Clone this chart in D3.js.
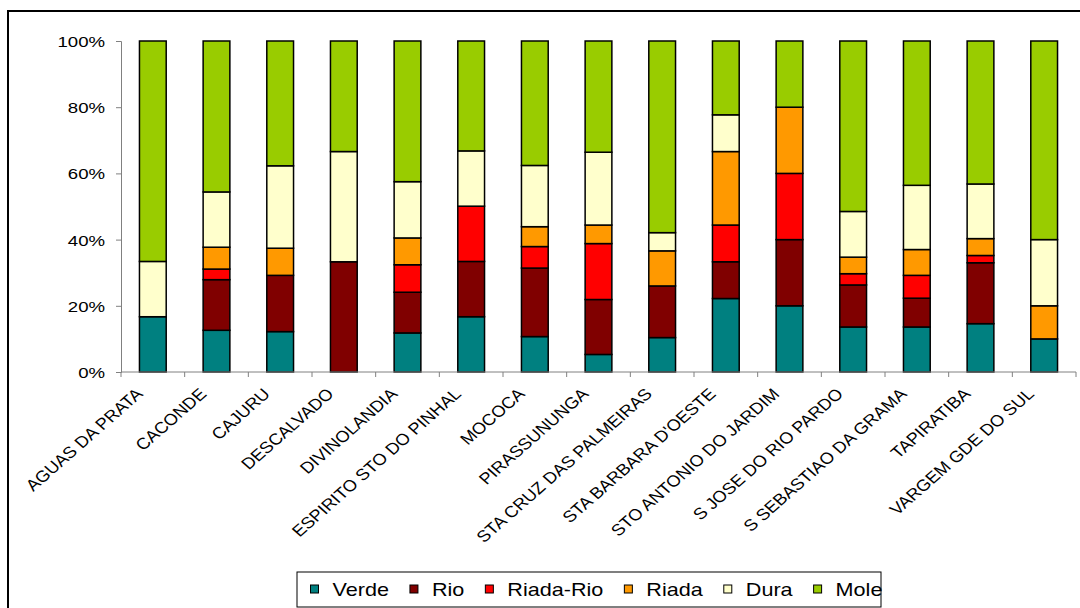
<!DOCTYPE html>
<html lang="pt">
<head>
<meta charset="UTF-8">
<title>Composição por município</title>
<script src="https://d3js.org/d3.v7.min.js"></script>
<style>
  body { margin: 0; background: #fff; }
  svg { display: block; font-family: "Liberation Sans", Arial, sans-serif; }
</style>
</head>
<body>
<div id="chart"></div>
<script>
// municípios
const categories = ["AGUAS DA PRATA", "CACONDE", "CAJURU", "DESCALVADO", "DIVINOLANDIA",
  "ESPIRITO STO DO PINHAL", "MOCOCA", "PIRASSUNUNGA", "STA CRUZ DAS PALMEIRAS",
  "STA BARBARA D'OESTE", "STO ANTONIO DO JARDIM", "S JOSE DO RIO PARDO",
  "S SEBASTIAO DA GRAMA", "TAPIRATIBA", "VARGEM GDE DO SUL"];

// percentuais
const verde    = [16.7, 12.6, 12.2, 0, 11.8, 16.7, 10.7, 5.3, 10.4, 22.2, 20, 13.6, 13.6, 14.6, 10];
const rio      = [0, 15.3, 17.0, 33.3, 12.3, 16.7, 20.7, 16.6, 15.6, 11.1, 20, 12.7, 8.7, 18.4, 0];
const riadaRio = [0, 3.2, 0, 0, 8.3, 16.7, 6.5, 16.9, 0, 11.1, 20, 3.4, 6.9, 2.2, 0];
const riada    = [0, 6.6, 8.2, 0, 8.1, 0, 6.0, 5.6, 10.6, 22.2, 20, 5.0, 7.8, 5.1, 10];
const dura     = [16.7, 16.7, 24.9, 33.3, 17.0, 16.7, 18.5, 22.0, 5.5, 11.1, 0, 13.8, 19.4, 16.5, 20];
const mole     = [66.6, 45.6, 37.7, 33.4, 42.5, 33.2, 37.6, 33.6, 57.9, 22.3, 20, 51.5, 43.6, 43.2, 60];

const seriesNames = ["Verde", "Rio", "Riada-Rio", "Riada", "Dura", "Mole"];
const seriesValues = [verde, rio, riadaRio, riada, dura, mole];
const colors = ["#008080", "#800000", "#ff0000", "#ff9900", "#ffffcc", "#99cc00"];
const yTicks = [0, 0.2, 0.4, 0.6, 0.8, 1];

const W = 1080, H = 608;
const stretch = 1.2; // texto levemente alargado como no original

const svg = d3.select("#chart").append("svg").attr("width", W).attr("height", H);

// moldura externa
svg.append("rect")
  .attr("x", 8).attr("y", 11).attr("width", 1200).attr("height", 800)
  .attr("fill", "none").attr("stroke", "#000").attr("stroke-width", 2);

const x = d3.scaleBand().domain(categories).range([121, 1076]).paddingInner(0.58).paddingOuter(0.29);
const y = d3.scaleLinear().domain([0, 1]).range([372, 41]);

// tabela para o stack
const table = categories.map((c, i) => {
  const row = { cat: c };
  seriesNames.forEach((s, j) => { row[s] = seriesValues[j][i]; });
  return row;
});
const stacked = d3.stack().keys(seriesNames).offset(d3.stackOffsetExpand)(table);

// barras
svg.append("g").selectAll("g")
  .data(stacked)
  .join("g")
  .attr("fill", (d, i) => colors[i])
  .selectAll("rect")
  .data(d => d.filter(p => p[1] - p[0] > 0))
  .join("rect")
  .attr("x", d => x(d.data.cat))
  .attr("y", d => y(d[1]))
  .attr("width", x.bandwidth())
  .attr("height", d => y(d[0]) - y(d[1]))
  .attr("stroke", "#000")
  .attr("stroke-width", 1.5);

// eixo Y
const yAxis = svg.append("g").attr("transform", "translate(121,0)")
  .call(d3.axisLeft(y).tickValues(yTicks).tickSize(5).tickFormat(d3.format(".0%")));
yAxis.select(".domain").attr("stroke", "#808080");
yAxis.selectAll(".tick line").attr("stroke", "#808080");
yAxis.selectAll(".tick text")
  .attr("x", null).attr("dy", null)
  .attr("font-size", 15.5).attr("fill", "#000")
  .attr("text-anchor", "end")
  .attr("transform", `translate(-16,5.5) scale(${stretch},1)`);

// eixo X (marcas nos limites das categorias)
const step = x.step();
const bounds = d3.range(categories.length + 1).map(i => x.range()[0] + i * step);
svg.append("line")
  .attr("x1", x.range()[0]).attr("x2", x.range()[1])
  .attr("y1", y(0)).attr("y2", y(0))
  .attr("stroke", "#808080");
svg.append("g").selectAll("line")
  .data(bounds)
  .join("line")
  .attr("x1", d => d).attr("x2", d => d)
  .attr("y1", y(0)).attr("y2", y(0) + 5)
  .attr("stroke", "#808080");

// rótulos inclinados
svg.append("g").selectAll("text")
  .data(categories)
  .join("text")
  .attr("text-anchor", "end")
  .attr("font-size", 16)
  .attr("transform", d => `translate(${x(d) + x.bandwidth() / 2 - 9},395) scale(1.14,1) rotate(-45)`)
  .text(d => d);

// legenda
const lg = svg.append("g");
lg.append("rect")
  .attr("x", 297).attr("y", 572).attr("width", 584).attr("height", 35)
  .attr("fill", "#fff").attr("stroke", "#000").attr("stroke-width", 1);
let lx = 310.5;
seriesNames.forEach((s, i) => {
  lg.append("rect")
    .attr("x", lx).attr("y", 585).attr("width", 8).attr("height", 8)
    .attr("fill", colors[i]).attr("stroke", "#000").attr("stroke-width", 1);
  const t = lg.append("text")
    .attr("font-size", 18)
    .attr("transform", `translate(${lx + 22},596) scale(${stretch},1)`)
    .text(s);
  lx += 22 + t.node().getComputedTextLength() * stretch + 21;
});
</script>
</body>
</html>
